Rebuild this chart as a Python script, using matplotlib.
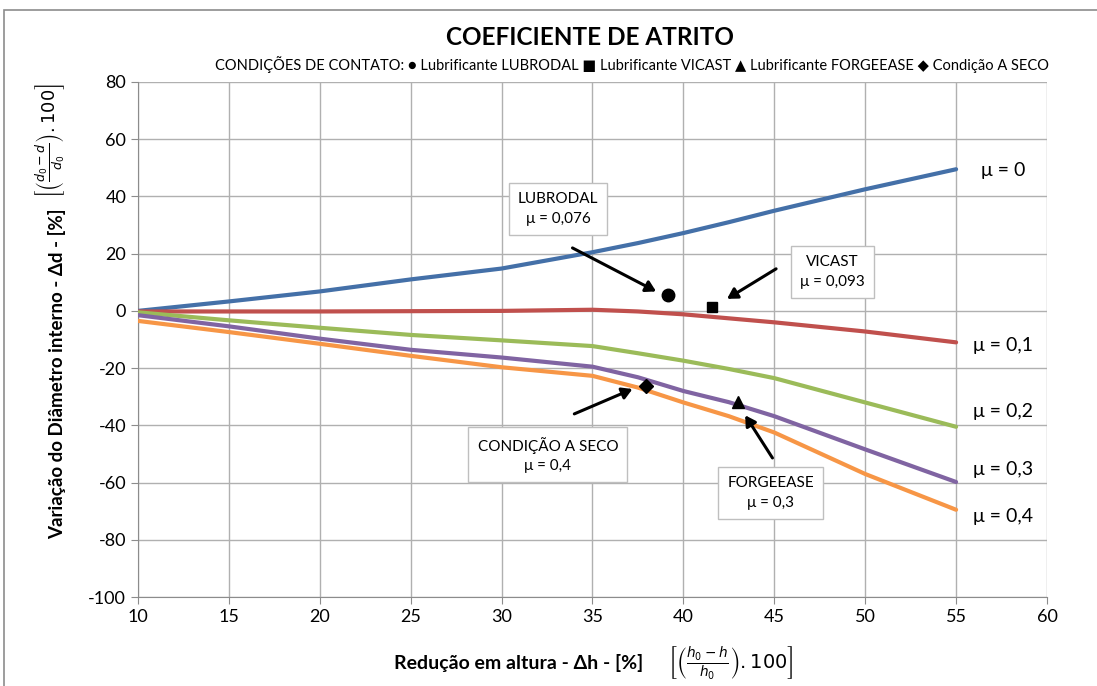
import matplotlib
matplotlib.use("Agg")
import matplotlib.pyplot as plt
from matplotlib.patches import Rectangle

plt.rcParams['font.family'] = ['Lato', 'DejaVu Sans']
plt.rcParams['axes.unicode_minus'] = False

# Redução em altura [%]
reducao = [10, 15, 20, 25, 30, 35, 37.5, 40, 42.5, 45, 50, 55]

# Variação do diâmetro interno [%] para cada coeficiente de atrito
mu_0   = [0.0, 3.3, 6.8, 11.0, 14.8, 20.5, 23.7, 27.2, 31.0, 35.0, 42.5, 49.5]
mu_01  = [-0.2, -0.2, -0.2, -0.1, 0.0, 0.4, -0.2, -1.2, -2.6, -4.0, -7.2, -11.0]
mu_02  = [-0.5, -3.3, -5.9, -8.4, -10.3, -12.3, -14.8, -17.4, -20.3, -23.5, -32.0, -40.5]
mu_03  = [-1.5, -5.4, -9.7, -13.6, -16.3, -19.5, -23.2, -28.0, -31.9, -36.8, -48.4, -59.8]
mu_04  = [-3.5, -7.4, -11.5, -15.7, -19.7, -22.7, -26.8, -32.0, -36.8, -42.5, -57.0, -69.5]

series = [
    (mu_0,  '#4470A8', 'μ = 0'),
    (mu_01, '#C0504D', 'μ = 0,1'),
    (mu_02, '#9BBB59', 'μ = 0,2'),
    (mu_03, '#8064A2', 'μ = 0,3'),
    (mu_04, '#F79646', 'μ = 0,4'),
]
label_y = [49, -12, -35, -55.5, -72]

# Ensaios experimentais
lubrodal   = (39.15, 5.4)
vicast     = (41.6, 1.5)
forgeease  = (43.0, -32.0)
seco       = (37.95, -26.4)

fig = plt.figure(figsize=(10.97, 6.86), dpi=100)
ax = fig.add_axes([0.1258, 0.1297, 0.8286, 0.7508])

for (vals, cor, nome), ly in zip(series, label_y):
    ax.plot(reducao, vals, color=cor, lw=3, solid_capstyle='round',
            solid_joinstyle='round', zorder=3)
    ax.text(57.6, ly, nome, ha='center', va='center', fontsize=14)

ax.plot(*lubrodal, 'o', color='black', ms=9, zorder=5)
ax.plot(*vicast, 's', color='black', ms=7.5, zorder=5)
ax.plot(*forgeease, '^', color='black', ms=9, zorder=5)
ax.plot(*seco, 'D', color='black', ms=7.5, zorder=5)

caixa = dict(boxstyle='square,pad=0.6', fc='white', ec='#bfbfbf', lw=1)
seta = dict(arrowstyle='-|>,head_length=0.6,head_width=0.35', color='black',
            lw=2.2, shrinkA=0, shrinkB=0)

def anotar(texto, ponto, caixa_xy, origem):
    ax.text(*caixa_xy, texto, ha='center', va='center', fontsize=11,
            bbox=caixa, linespacing=1.5, zorder=6)
    ax.annotate('', xy=ponto, xytext=origem, arrowprops=seta, zorder=6)

anotar('LUBRODAL\nμ = 0,076', (38.5, 6.8), (33.1, 35.6), (33.9, 22.0))
anotar('VICAST\nμ = 0,093', (42.4, 4.2), (48.2, 13.6), (45.1, 14.7))
anotar('CONDIÇÃO A SECO\nμ = 0,4', (37.2, -27.3), (32.55, -50.3), (34.0, -36.0))
anotar('FORGEEASE\nμ = 0,3', (43.4, -36.5), (44.8, -63.6), (44.9, -51.4))

ax.set_xlim(10, 60)
ax.set_ylim(-100, 80)
ax.set_xticks(range(10, 61, 5))
ax.set_yticks(range(-100, 81, 20))
ax.grid(True, color='#b0b0b0', lw=1)
ax.set_axisbelow(True)
for lado in ['top', 'right']:
    ax.spines[lado].set_visible(False)
for lado in ['left', 'bottom']:
    ax.spines[lado].set_color('#8c8c8c')
ax.tick_params(labelsize=13, color='#8c8c8c', length=5)

fig.text(0.538, 0.945, 'COEFICIENTE DE ATRITO', ha='center', va='center',
         fontsize=17.5, fontweight='bold')
fig.text(0.576, 0.906,
         'CONDIÇÕES DE CONTATO: ● Lubrificante LUBRODAL ■ Lubrificante VICAST '
         '▲ Lubrificante FORGEEASE ◆ Condição A SECO',
         ha='center', va='center', fontsize=10.5)

fig.text(0.473, 0.034, 'Redução em altura - Δh - [%]', ha='center', va='center',
         fontsize=14, fontweight='bold')
fig.text(0.666, 0.034, r'$\left[\left(\frac{h_0-h}{h_0}\right).100\right]$',
         ha='center', va='center', fontsize=14)

fig.text(0.052, 0.455, 'Variação do Diâmetro interno - Δd - [%]', rotation=90,
         ha='center', va='center', fontsize=13.5, fontweight='bold')
fig.text(0.046, 0.795, r'$\left[\left(\frac{d_0-d}{d_0}\right).100\right]$',
         rotation=90, ha='center', va='center', fontsize=13)

# moldura externa
fig.patches.append(Rectangle((0.004, -0.01), 1.5, 0.995, transform=fig.transFigure,
                             fill=False, ec='#8c8c8c', lw=1.2))

fig.savefig('out.png', dpi=100)
